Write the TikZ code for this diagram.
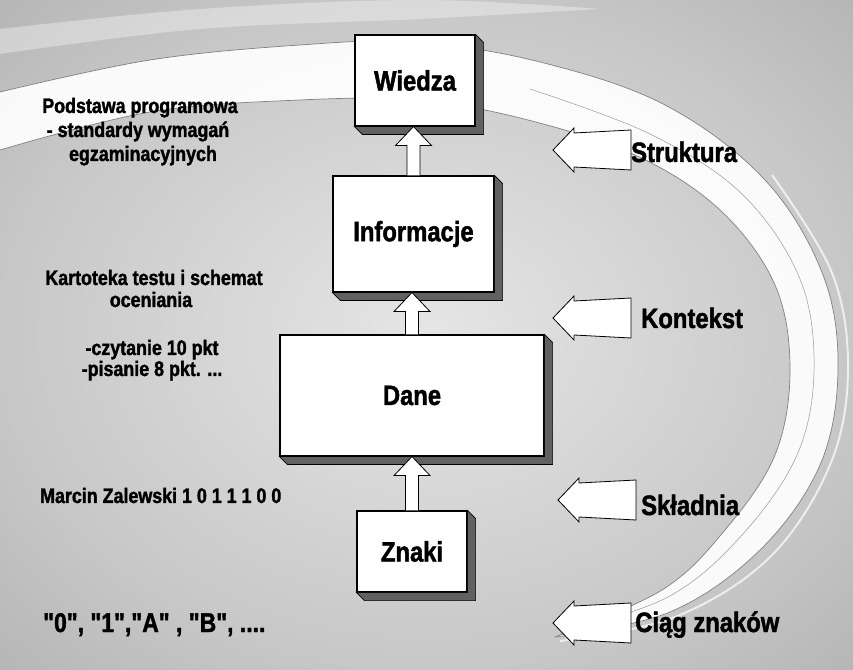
\documentclass[tikz,border=0pt]{standalone}
\usepackage{fontspec}
\setmainfont{Liberation Sans}
\newfontfamily\lbf{Liberation Sans}[UprightFont={* Bold}, FakeStretch=0.85, FakeBold=1.6]
\usetikzlibrary{calc}
\pgfdeclareradialshading{bgshade}{\pgfpoint{0bp}{0bp}}{color(0bp)=(black!10); color(25bp)=(black!22); color(50bp)=(black!38); color(60bp)=(black!44)}
\newcommand\bevel[1]{\filldraw[shade3d] (#1.south west) -- ++(8,-8) -- ($(#1.south east)+(8,-8)$) -- ($(#1.north east)+(8,-8)$) -- (#1.north east) -- (#1.south east) -- cycle;}
\newcommand\uparrowbox[2]{\draw[hollow] let \p1=(#1.north), \p2=(#2.south) in (\x1-6.5pt,\y1) -- (\x1-6.5pt,\y2-19pt) -- (\x1-18pt,\y2-19pt) -- (\x1,\y2) -- (\x1+18pt,\y2-19pt) -- (\x1+6.5pt,\y2-19pt) -- (\x1+6.5pt,\y1);}
\begin{document}
\begin{tikzpicture}[x=1pt,y=1pt,
  box/.style={draw=black, line width=1.1pt, fill=white, inner sep=0pt, font=\lbf\fontsize{28}{30}\selectfont},
  hollow/.style={draw=black, line width=0.8pt, fill=white, line join=miter},
  lab/.style={font=\lbf\fontsize{28}{30}\selectfont, anchor=base west, inner sep=0pt},
  note/.style={font=\lbf\fontsize{21}{24}\selectfont, anchor=base, inner sep=0pt},
  shade3d/.style={fill=black!62, draw=black, line width=0.6pt},
  edge/.style={draw=black!50, line width=0.7pt},
  larr/.pic={\draw[hollow] (0,0) -- (21,22) -- (21,17) -- (78,20) -- (78,-20) -- (21,-17) -- (21,-22) -- cycle;}
]
\useasboundingbox (0,0) rectangle (853,669);
\shade[shading=bgshade] (0,0) rectangle (853,669);
% faint upper streak
\fill[white, opacity=0.35] plot[smooth, tension=0.6] coordinates {(0,640) (200,660) (420,669) (600,660)} -- plot[smooth, tension=0.6] coordinates {(600,660) (420,650) (200,640) (0,615)} -- cycle;
% swoosh
\fill[white, opacity=0.92] plot[smooth, tension=0.6] coordinates {(0,577) (150,609) (300,624) (415,627) (540,607) (665,564) (765,489) (823,394) (838,299) (820,204) (760,119) (670,57) (555,32)}
  -- plot[smooth, tension=0.6] coordinates {(555,32) (662,79) (725,139) (775,214) (790,299) (775,384) (720,459) (635,514) (520,551) (415,569) (300,569) (150,557) (0,519)} -- cycle;
\draw[edge] plot[smooth, tension=0.6] coordinates {(0,577) (150,609) (300,624) (415,627) (540,607) (665,564) (765,489) (823,394) (838,299) (820,204) (760,119) (670,57) (555,32)};
\draw[edge] plot[smooth, tension=0.6] coordinates {(555,32) (662,79) (725,139) (775,214) (790,299) (775,384) (720,459) (635,514) (520,551) (415,569) (300,569) (150,557) (0,519)};
\draw[draw=black!40, line width=0.5pt] plot[smooth, tension=0.6] coordinates {(560,36) (668,72) (742,134) (797,214) (814,299) (800,390) (742,475) (650,535) (530,580)};
\draw[draw=white, line width=2pt, opacity=0.7] plot[smooth, tension=0.6] coordinates {(560,28) (675,52) (770,112) (830,204) (848,299) (832,396) (772,494)};

% boxes
\node[box, minimum width=120pt, minimum height=91pt] (wie) at (415,588.5) {Wiedza};
\node[box, minimum width=161pt, minimum height=116pt] (inf) at (413.5,435) {Informacje};
\node[box, minimum width=264pt, minimum height=121pt] (dan) at (412,273.5) {Dane};
\node[box, minimum width=110pt, minimum height=81pt] (zna) at (412,117.5) {Znaki};
\bevel{wie}\bevel{inf}\bevel{dan}\bevel{zna}
\uparrowbox{inf}{wie}
\uparrowbox{dan}{inf}
\uparrowbox{zna}{dan}

% right arrows and labels
\pic (astr) at (553,519) {larr};
\pic (akon) at (553,351) {larr};
\pic (askl) at (558,169) {larr};
\pic (acia) at (553,46) {larr};
\node[lab] (lstr) at (631,507) {Struktura};
\node[lab] (lkon) at (641,341) {Kontekst};
\node[lab] (lskl) at (641,154) {Składnia};
\node[lab] (lcia) at (635,37) {Ciąg znaków};

% left notes
\node[note] (p1) at (140,556) {Podstawa programowa};
\node[note] (p2) at (138,532) {- standardy wymagań};
\node[note] (p3) at (143,508) {egzaminacyjnych};
\node[note] (k1) at (154,384) {Kartoteka testu i schemat};
\node[note] (k2) at (151,362) {oceniania};
\node[note] (c1) at (152,314) {-czytanie 10 pkt};
\node[note] (c2) at (152,293) {-pisanie 8 pkt. ...};
\node[note, anchor=base west] (mz) at (40,166) {Marcin Zalewski 1 0 1 1 1 0 0};
\node[note, anchor=base west, font=\lbf\fontsize{27}{30}\selectfont] (ch) at (43,37) {\char34 0\char34, \char34 1\char34,\char34 A\char34{} , \char34 B\char34, ....};
\end{tikzpicture}
\end{document}
